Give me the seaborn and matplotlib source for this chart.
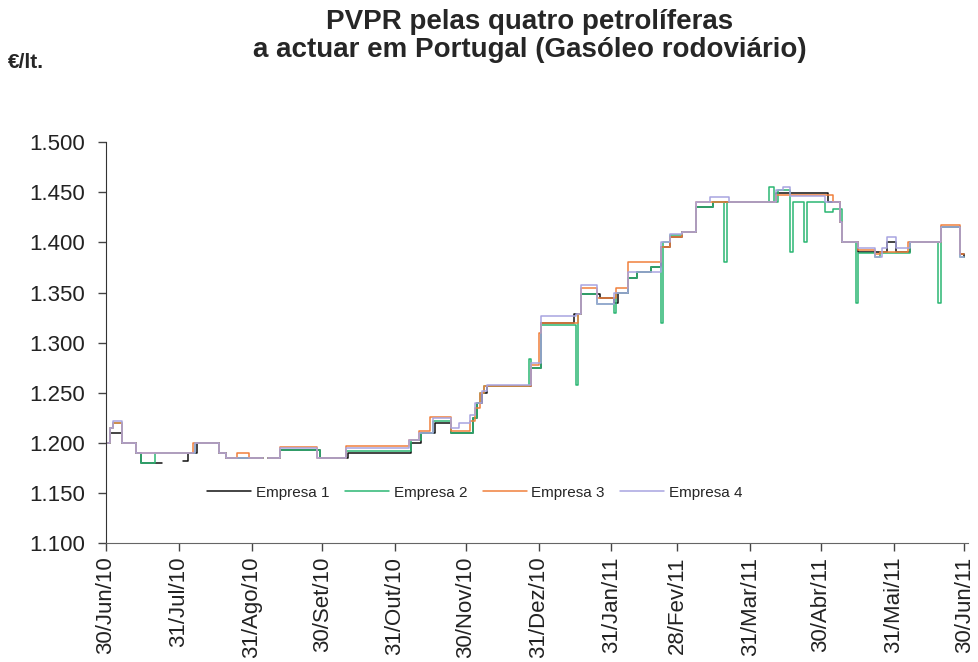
import numpy as np
import pandas as pd
import seaborn as sns
import matplotlib.pyplot as plt
from matplotlib.ticker import FormatStrFormatter
from matplotlib.lines import Line2D

nan = np.nan
inicio = pd.Timestamp('2010-06-30')

# dias desde 30/Jun/10 em que o preco muda, e o preco (EUR/lt.) a partir desse dia
e1_dias = [0, 2, 7, 13, 15, 24, 33, 35, 39, 48, 51, 67, 69, 74, 91, 103, 130, 134, 140, 147,
           156, 158, 160, 162, 181, 185, 199, 202, 210, 216, 218, 222, 226, 232, 236, 240, 245,
           251, 258, 285, 307, 312, 313, 320, 332, 336, 342, 355, 363, 365]
e1_precos = [1.200, 1.210, 1.200, 1.190, 1.180, nan, 1.182, 1.190, 1.200, 1.190, 1.185, nan,
             1.185, 1.193, 1.185, 1.190, 1.200, 1.210, 1.220, 1.210, 1.225, 1.240, 1.250, 1.257,
             1.275, 1.320, 1.329, 1.349, 1.345, 1.340, 1.350, 1.365, 1.370, 1.375, 1.395, 1.405,
             1.410, 1.435, 1.440, 1.449, 1.440, 1.420, 1.400, 1.390, 1.400, 1.390, 1.400, 1.415,
             1.388, 1.385]

e2_dias = [0, 2, 3, 7, 13, 15, 21, 38, 48, 51, 67, 69, 74, 91, 102, 130, 134, 139, 147, 156,
           158, 159, 161, 180, 181, 185, 200, 201, 202, 209, 216, 217, 222, 226, 232, 236, 237,
           240, 245, 251, 258, 263, 264, 282, 284, 286, 291, 292, 297, 298, 306, 309, 313, 319,
           320, 327, 329, 342, 354, 355, 363, 365]
e2_precos = [1.200, 1.215, 1.220, 1.200, 1.190, 1.180, 1.190, 1.200, 1.190, 1.185, nan, 1.185,
             1.193, 1.185, 1.192, 1.203, 1.210, 1.222, 1.210, 1.225, 1.240, 1.250, 1.257, 1.284,
             1.275, 1.318, 1.258, 1.329, 1.349, 1.339, 1.330, 1.350, 1.365, 1.370, 1.375, 1.320,
             1.400, 1.407, 1.410, 1.435, 1.440, 1.380, 1.440, 1.455, 1.440, 1.452, 1.390, 1.440,
             1.400, 1.440, 1.430, 1.433, 1.400, 1.340, 1.389, 1.385, 1.389, 1.400, 1.340, 1.415,
             1.385, 1.385]

e3_dias = [0, 2, 3, 7, 13, 37, 48, 51, 56, 61, 67, 69, 74, 90, 102, 129, 133, 138, 147, 155,
           157, 159, 161, 181, 184, 185, 201, 202, 209, 217, 222, 236, 240, 245, 251, 285, 309,
           312, 313, 320, 327, 329, 341, 355, 363, 365]
e3_precos = [1.200, 1.215, 1.220, 1.200, 1.190, 1.200, 1.190, 1.185, 1.190, 1.185, nan, 1.185,
             1.196, 1.185, 1.197, 1.203, 1.212, 1.226, 1.212, 1.222, 1.235, 1.250, 1.257, 1.278,
             1.310, 1.320, 1.329, 1.355, 1.345, 1.355, 1.380, 1.395, 1.405, 1.410, 1.440, 1.447,
             1.440, 1.420, 1.400, 1.392, 1.388, 1.390, 1.400, 1.417, 1.388, 1.388]

e4_dias = [0, 2, 3, 7, 13, 38, 48, 51, 67, 69, 74, 90, 102, 129, 133, 139, 147, 150, 155, 157,
           160, 162, 181, 185, 200, 202, 209, 216, 222, 236, 240, 245, 251, 257, 265, 285, 288,
           291, 306, 312, 313, 320, 327, 330, 332, 336, 342, 355, 363, 365]
e4_precos = [1.200, 1.215, 1.222, 1.200, 1.190, 1.200, 1.190, 1.185, nan, 1.185, 1.195, 1.185,
             1.195, 1.203, 1.210, 1.225, 1.215, 1.220, 1.228, 1.240, 1.252, 1.258, 1.280, 1.327,
             1.329, 1.358, 1.339, 1.350, 1.370, 1.400, 1.408, 1.410, 1.440, 1.445, 1.440, 1.452,
             1.455, 1.446, 1.440, 1.420, 1.400, 1.394, 1.385, 1.394, 1.405, 1.394, 1.400, 1.415,
             1.385, 1.385]

empresas = ['Empresa 1', 'Empresa 2', 'Empresa 3', 'Empresa 4']
cores = ['#111111', '#2bb673', '#f0803c', '#a8a4e0']

tick_datas = ['2010-06-30', '2010-07-31', '2010-08-31', '2010-09-30', '2010-10-31',
              '2010-11-30', '2010-12-31', '2011-01-31', '2011-02-28', '2011-03-31',
              '2011-04-30', '2011-05-31', '2011-06-30']
tick_labels = ['30/Jun/10', '31/Jul/10', '31/Ago/10', '30/Set/10', '31/Out/10', '30/Nov/10',
               '31/Dez/10', '31/Jan/11', '28/Fev/11', '31/Mar/11', '30/Abr/11', '31/Mai/11',
               '30/Jun/11']

# tabela longa; cada troco sem falhas e uma "unidade" para nao ligar os buracos
linhas = []
for nome, dias, precos in zip(empresas, [e1_dias, e2_dias, e3_dias, e4_dias],
                              [e1_precos, e2_precos, e3_precos, e4_precos]):
    seg = 0
    anterior = None
    for d, p in zip(dias, precos):
        if np.isnan(p):
            # fecha o degrau antes da falha
            linhas.append({'Empresa': nome, 'Data': inicio + pd.Timedelta(days=d),
                           'Preco': anterior, 'seg': nome + str(seg)})
            seg += 1
            continue
        linhas.append({'Empresa': nome, 'Data': inicio + pd.Timedelta(days=d),
                       'Preco': p, 'seg': nome + str(seg)})
        anterior = p
df = pd.DataFrame(linhas)

sns.set_style('white')
plt.rcParams['font.family'] = ['Liberation Sans', 'DejaVu Sans']

fig = plt.figure(figsize=(9.79, 6.62), dpi=100)
ax = fig.add_axes([0.108, 0.18, 0.881, 0.605])

sns.lineplot(data=df, x='Data', y='Preco', hue='Empresa', units='seg', estimator=None,
             palette=cores, hue_order=empresas, drawstyle='steps-post', linewidth=1.1,
             legend=False, ax=ax)

ax.set_xlim(inicio, inicio + pd.Timedelta(days=366.7))
ax.set_ylim(1.1, 1.5)
ax.set_yticks(np.arange(1.1, 1.5001, 0.05))
ax.yaxis.set_major_formatter(FormatStrFormatter('%.3f'))
ax.set_xticks(pd.to_datetime(tick_datas))
ax.set_xticklabels(tick_labels, rotation=90)
ax.tick_params(axis='both', labelsize=16, direction='out', length=6, width=1,
               color='#444444', labelcolor='#222222', left=True, bottom=True)
ax.tick_params(axis='y', pad=9)
ax.tick_params(axis='x', pad=4)
ax.set_xlabel('')
ax.set_ylabel('')
for s in ['top', 'right']:
    ax.spines[s].set_visible(False)
ax.spines['left'].set_color('#333333')
ax.spines['bottom'].set_color('#666666')

handles = [Line2D([], [], color=c, lw=1.1) for c in cores]
ax.legend(handles, empresas, ncol=4, loc='center', bbox_to_anchor=(0.428, 0.125),
          frameon=False, fontsize=11, handlelength=2.9, handletextpad=0.3, columnspacing=1.0)

fig.text(0.541, 1 - 22 / 662, 'PVPR pelas quatro petrolíferas', ha='center', va='center',
         fontsize=20, fontweight='bold')
fig.text(0.541, 1 - 50 / 662, 'a actuar em Portugal (Gasóleo rodoviário)', ha='center',
         va='center', fontsize=20, fontweight='bold')
fig.text(8 / 979, 1 - 62 / 662, '€/lt.', ha='left', va='center', fontsize=15, fontweight='bold')

fig.savefig('out.png', dpi=100)
